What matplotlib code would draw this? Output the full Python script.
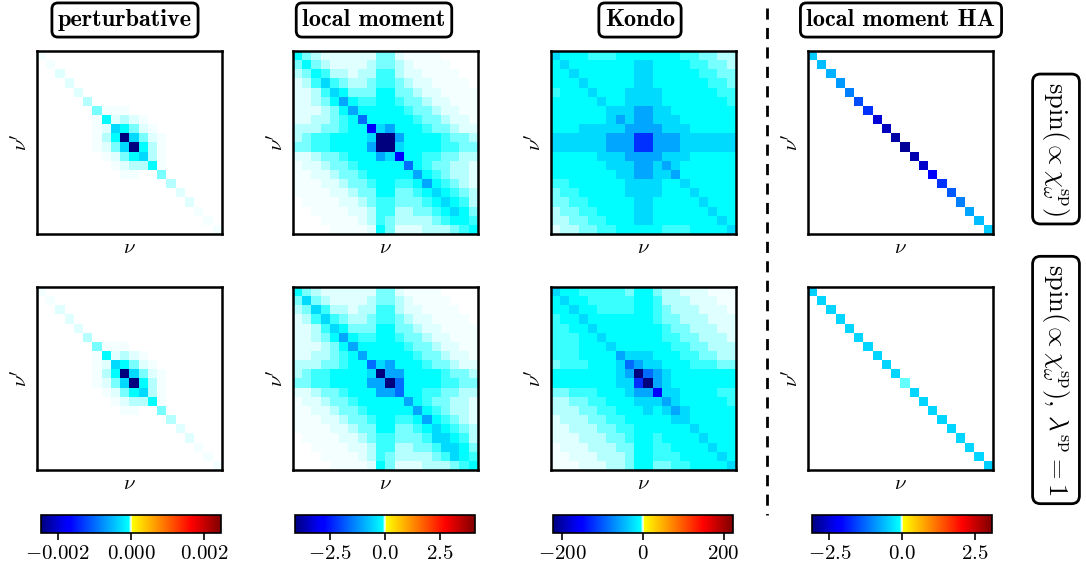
import matplotlib
matplotlib.use("Agg")
import matplotlib.pyplot as plt
import numpy as np
from matplotlib.colors import LinearSegmentedColormap, Normalize
from matplotlib.lines import Line2D

plt.rcParams['font.family'] = 'serif'
plt.rcParams['font.serif'] = ['cmr10']
plt.rcParams['mathtext.fontset'] = 'cm'
plt.rcParams['axes.formatter.use_mathtext'] = True

col_titles = ['perturbative', 'local moment', 'Kondo', 'local moment HA']
row_labels = [r'spin$(\propto\chi^{\rm sp}_{\omega})$',
              r'spin$(\propto\chi^{\rm sp}_{\omega})$, $\lambda^{\rm sp}=1$']
cbar_max = [0.00245, 4.1, 223.0, 3.1]
cbar_ticks = [[-0.002, 0.0, 0.002], [-2.5, 0.0, 2.5], [-200, 0, 200], [-2.5, 0.0, 2.5]]

# colour level of a cell, as fraction of -cbar_max
level = {'0': 0.0, '1': 0.0015, '2': 0.004, '3': 0.008, '4': 0.013, '5': 0.019,
         '6': 0.03, '7': 0.12, '8': 0.25, '9': 0.4, 'a': 0.55, 'b': 0.7,
         'c': 0.85, 'd': 1.0}

pert_top = [
    "10000000000000000000",
    "01000000000000000000",
    "00200000000000000000",
    "00020000000000000000",
    "00002000000000000000",
    "00000300000000000000",
    "00000041110000000000",
    "00000016232100000000",
    "00000012764210000000",
    "000000136d7421000000",
    "0000001247d631000000",
    "00000001246731000000",
    "00000000123361000000",
    "00000000011004000000",
    "00000000000000300000",
    "00000000000000020000",
    "00000000000000002000",
    "00000000000000000100",
    "00000000000000000010",
    "00000000000000000001",
]
pert_bot = list(pert_top)

lm_top = [
    "64322222244211110000",
    "46432222344321111000",
    "34653323355322111100",
    "23575433455432211110",
    "22357644466443221111",
    "22346865566544322111",
    "22234686666654432211",
    "22334569666665443221",
    "33344566b78666544322",
    "345566667dd866665443",
    "445566668dd766665544",
    "22344566687b66554433",
    "12234456666696544332",
    "11223445666668654332",
    "11122344566556865432",
    "11112234466445676543",
    "01111223455444567653",
    "00111122355334456764",
    "00011112354333345665",
    "00001111264222333456",
]
lm_bot = [
    "64322222244211110000",
    "47432222344321111000",
    "34753323355322111100",
    "23575433455432211110",
    "22357644466443221111",
    "22346865566544322111",
    "22234686666654432211",
    "22334568666665443221",
    "33344566978666544322",
    "345566667d8866665443",
    "4455666688d966665544",
    "22344566688966554433",
    "12234456666686544332",
    "11223445666668654332",
    "11122344566556865432",
    "11112234466445676543",
    "01111223455444577653",
    "00111122355334457764",
    "00011112354333345765",
    "00001111264222333456",
]
kondo_top = [
    "76665556666666554433",
    "67666666677666655443",
    "66766666677666665544",
    "66676666677666666554",
    "56667666777766666655",
    "66666766777766666665",
    "66666677788776666666",
    "66666678788777666666",
    "66677777888877766666",
    "777777888aa888777777",
    "777777888aa888777777",
    "66666777888877766666",
    "66666677788787666666",
    "66666667788778666666",
    "55666666777766766666",
    "45566666777766676666",
    "44556666677666667666",
    "34455666677666666766",
    "33445566677666666676",
    "23344556666655566667",
]
kondo_bot = [
    "76655555466433222111",
    "67665555566533322211",
    "66766555566543332221",
    "56676666666544333222",
    "55667666666654433322",
    "55566766666655443332",
    "55566676666665544333",
    "55566668777666554433",
    "45556667987766655544",
    "666666678d9876666666",
    "666666677ad876666666",
    "44555666788b77666655",
    "33445566677787666665",
    "33344556667678766666",
    "23334455666667766666",
    "22333445566666676666",
    "22233344566566667666",
    "12223334466556666766",
    "11222333466555666676",
    "11122233466445566667",
]
# local moment HA: only the diagonal is non-zero
ha_top_diag = [-0.48, -0.59, -0.68, -0.88, -1.08, -1.49, -1.7, -2.48, -2.67, -2.82,
               -2.92, -2.75, -2.57, -2.23, -1.69, -1.39, -1.08, -0.78, -0.59, -0.48]
ha_bot_diag = [-0.45, -0.4, -0.4, -0.4, -0.4, -0.4, -0.4, -0.4, -0.4, -0.4,
               -0.05, -0.4, -0.4, -0.4, -0.4, -0.4, -0.4, -0.4, -0.4, -0.45]


def to_matrix(rows, vmax):
    return np.array([[-level[c] * vmax for c in r] for r in rows])


mats = [
    [to_matrix(pert_top, cbar_max[0]), to_matrix(lm_top, cbar_max[1]),
     to_matrix(kondo_top, cbar_max[2]), np.diag(ha_top_diag)],
    [to_matrix(pert_bot, cbar_max[0]), to_matrix(lm_bot, cbar_max[1]),
     to_matrix(kondo_bot, cbar_max[2]), np.diag(ha_bot_diag)],
]

# jet-like map with white at zero
cmap = LinearSegmentedColormap.from_list('jetwhite', [
    (0.0, (0, 0, 0.5)), (0.143, (0, 0, 1)), (0.1625, (0, 0, 1)),
    (0.4875, (0, 1, 1)), (0.4995, (1, 1, 1)), (0.5015, (1, 1, 1)),
    (0.506, (1, 1, 0)), (0.835, (1, 0, 0)), (1.0, (0.5, 0, 0))], N=1025)

W, H = 1086, 571
fig = plt.figure(figsize=(W / 100, H / 100), dpi=100)

ax_left = [37, 293, 551, 808]
row_top = [51, 287]
aw, ah = 185, 183
cb_left = [41, 295, 553, 812]
title_x = [125, 374, 640, 901]

for c in range(4):
    norm = Normalize(-cbar_max[c], cbar_max[c])
    for r in range(2):
        ax = fig.add_axes([ax_left[c] / W, 1 - (row_top[r] + ah) / H, aw / W, ah / H])
        im = ax.imshow(mats[r][c], cmap=cmap, norm=norm, aspect='auto',
                       interpolation='nearest')
        ax.set_xticks([])
        ax.set_yticks([])
        for s in ax.spines.values():
            s.set_linewidth(1.8)
        ax.set_xlabel(r'$\nu$', fontsize=15, labelpad=4)
        ax.set_ylabel(r'$\nu^\prime$', fontsize=15, labelpad=4)
    cax = fig.add_axes([cb_left[c] / W, 1 - 533 / H, 180 / W, 18 / H])
    cb = fig.colorbar(im, cax=cax, orientation='horizontal', ticks=cbar_ticks[c])
    cb.outline.set_linewidth(1.2)
    cax.tick_params(labelsize=15, length=5, width=1.2)
    fig.text(title_x[c] / W, 1 - 20 / H, col_titles[c], ha='center', va='center',
             fontname='cmb10', fontsize=17.5,
             bbox=dict(boxstyle='round,pad=0.25', fc='white', ec='black', lw=2))

fig.text(1056 / W, 1 - 149 / H, row_labels[0], rotation=270, ha='center',
         va='center', fontsize=19,
         bbox=dict(boxstyle='round,pad=0.3', fc='white', ec='black', lw=2))
fig.text(1056 / W, 1 - 380 / H, row_labels[1], rotation=270, ha='center',
         va='center', fontsize=19,
         bbox=dict(boxstyle='round,pad=0.3', fc='white', ec='black', lw=2))

fig.add_artist(Line2D([767 / W, 767 / W], [1 - 8 / H, 1 - 515 / H],
                      transform=fig.transFigure, color='k', lw=2,
                      ls=(0, (4, 3))))

fig.savefig('out.png', dpi=100)
